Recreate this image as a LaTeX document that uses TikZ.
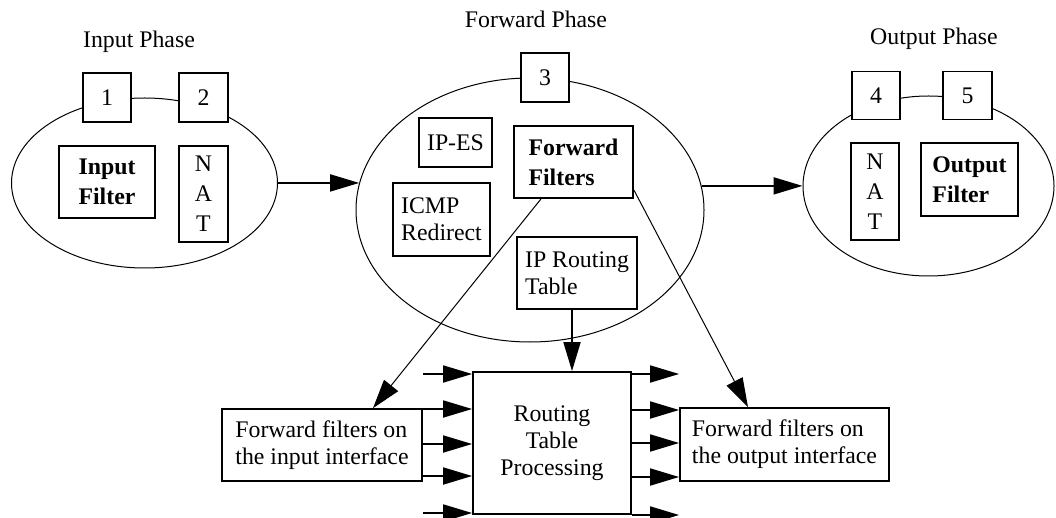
\documentclass[tikz,border=0pt]{standalone}
\usepackage{fontspec}
\setmainfont{Liberation Serif}
\usetikzlibrary{shapes.geometric,arrows.meta}
\begin{document}
\begin{tikzpicture}[x=1pt,y=-1pt,
  every node/.style={font=\fontsize{23.8}{27}\selectfont, inner sep=0pt},
  box/.style={draw, line width=1.8pt, fill=white, rectangle},
  oval/.style={draw, line width=1pt, ellipse, inner sep=0pt},
  arr/.style={line width=1.8pt, -{Triangle[length=29pt,width=17pt]}},
  thinarr/.style={line width=1pt, -{Triangle[length=29pt,width=18pt]}},
  phase/.style={anchor=base}]
\useasboundingbox (0,0) rectangle (1056,518);

% phases
\node[oval, minimum width=266pt, minimum height=170pt] (ellL) at (144.5,183) {};
\node[oval, minimum width=348pt, minimum height=264pt] (ellC) at (530,210) {};
\node[oval, minimum width=251pt, minimum height=180pt] (ellR) at (928.5,186) {};

\node[phase] (pIn) at (139,48) {Input Phase};
\node[phase] (pFw) at (536,28) {Forward Phase};
\node[phase] (pOut) at (934,45) {Output Phase};

% input phase
\node[box, minimum width=48pt, minimum height=49pt] (b1) at (107,97.5) {1};
\node[box, minimum width=49pt, minimum height=49pt] (b2) at (203.5,97.5) {2};
\node[box, minimum width=96pt, minimum height=72pt, align=left, font=\fontsize{23.8}{30}\selectfont\bfseries] (inF) at (107,182) {Input\\Filter};
\node[box, minimum width=49pt, minimum height=96pt, align=center, font=\fontsize{23.8}{30}\selectfont] (natL) at (203.5,194) {N\\A\\T};

% forward phase
\node[box, minimum width=48pt, minimum height=49pt] (b3) at (545,77.5) {3};
\node[box, minimum width=73pt, minimum height=49pt] (ipes) at (455.5,142.5) {IP-ES};
\node[box, minimum width=119pt, minimum height=72pt, align=left, font=\fontsize{23.8}{30}\selectfont\bfseries] (ff) at (573.5,162) {Forward\\Filters};
\node[box, minimum width=97pt, minimum height=73pt, align=left] (icmp) at (441.5,219.5) {ICMP\\Redirect};
\node[box, minimum width=120pt, minimum height=72pt, align=left] (iprt) at (577,273) {IP Routing\\Table};

% output phase
\node[box, minimum width=48pt, minimum height=48pt] (b4) at (876,95.5) {4};
\node[box, minimum width=49pt, minimum height=48pt] (b5) at (967.5,95.5) {5};
\node[box, minimum width=48pt, minimum height=97pt, align=center, font=\fontsize{23.8}{30}\selectfont] (natR) at (875,191.5) {N\\A\\T};
\node[box, minimum width=97pt, minimum height=73pt, align=left, font=\fontsize{23.8}{30}\selectfont\bfseries] (outF) at (969.5,179.5) {Output\\Filter};

% bottom
\node[box, minimum width=158pt, minimum height=142pt, align=center] (route) at (552,443) {Routing\\Table\\Processing};
\node[box, minimum width=200pt, minimum height=72pt, align=left] (fin) at (322,445) {Forward filters on\\the input interface};
\node[box, minimum width=209pt, minimum height=73pt, align=left] (fout) at (784.5,444.5) {Forward filters on\\the output interface};

% connectors
\draw[arr] (ellL.east |- ellC.171.7) -- (ellC.171.7);
\draw[arr] (ellC.8) -- (ellC.8 -| ellR.west);
\draw[arr] ([xshift=-5pt]iprt.south) -- ([xshift=-5pt]iprt.south |- route.north);
\draw[thinarr] ([xshift=-32.5pt]ff.south) -- ([xshift=51pt]fin.north);
\draw[thinarr] ([yshift=-28pt]ff.east) -- ([xshift=-36.5pt]fout.north);

\foreach \yy in {374,409,444,476,513}
  \draw[arr] (fin.east |- 0,\yy) -- (route.west |- 0,\yy);
\foreach \yy in {374,410,443,477,515}
  \draw[arr] (route.east |- 0,\yy) -- (fout.west |- 0,\yy);
\end{tikzpicture}
\end{document}
